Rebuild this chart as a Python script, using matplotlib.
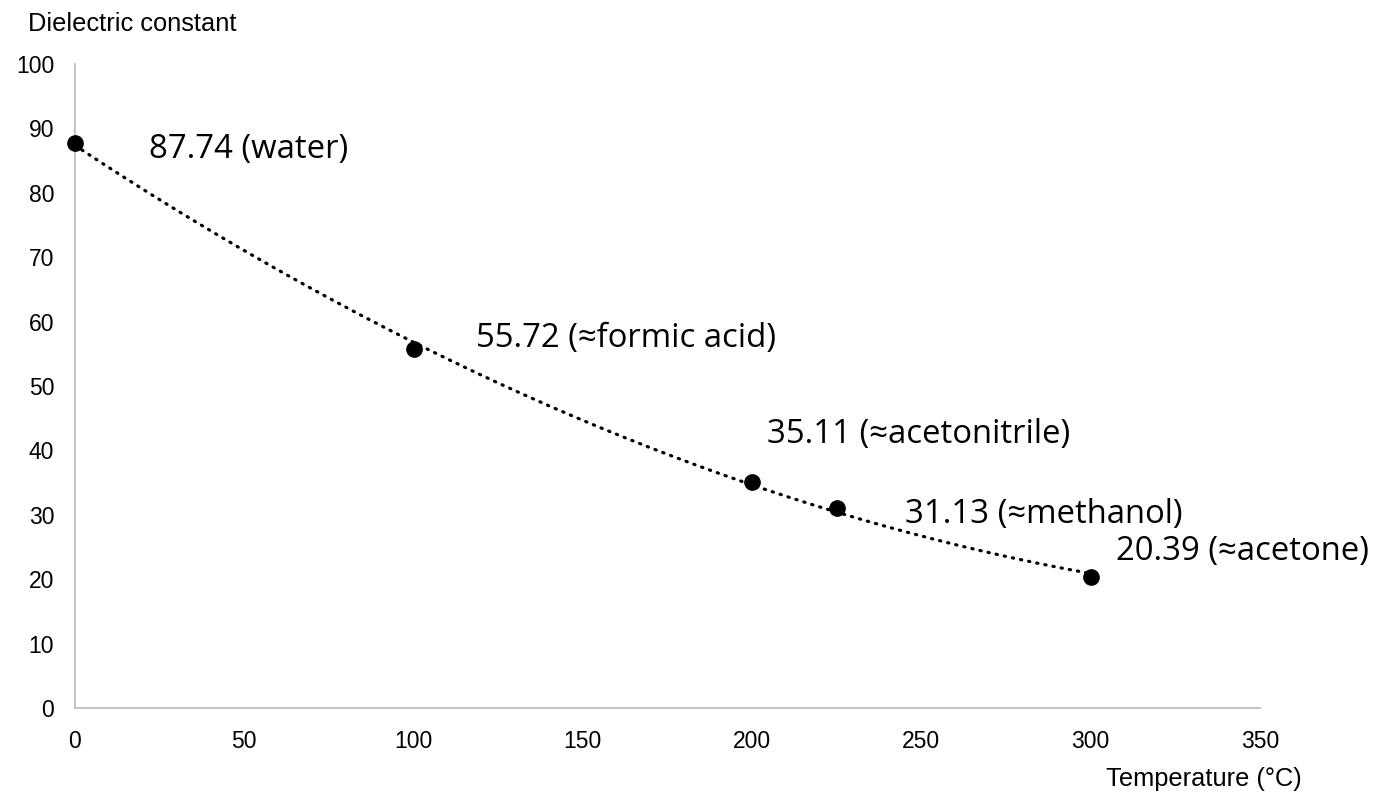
import numpy as np
import matplotlib.pyplot as plt

# data
temperature = [0, 100, 200, 225, 300]
dielectric = [87.74, 55.72, 35.11, 31.13, 20.39]
point_labels = [
    "87.74 (water)",
    "55.72 (≈formic acid)",
    "35.11 (≈acetonitrile)",
    "31.13 (≈methanol)",
    "20.39 (≈acetone)",
]
x_ticks = [0, 50, 100, 150, 200, 250, 300, 350]
y_ticks = [0, 10, 20, 30, 40, 50, 60, 70, 80, 90, 100]

# label offsets in pixels from each point to the text baseline (style only)
label_offsets = [(74, -15), (62, 2), (15, 39), (68, -15), (25, 17)]

fig = plt.figure(figsize=(13.81, 8.01), dpi=100)
ax = fig.add_axes([0.0543, 0.1161, 0.858, 0.804])

# polynomial trendline (2nd order), like the spreadsheet trendline
coef = np.polyfit(temperature, dielectric, 2)
xs = np.linspace(min(temperature), max(temperature), 300)
ax.plot(xs, np.polyval(coef, xs), color="black", lw=2.3,
        linestyle=(0, (0.4, 2.2)), dash_capstyle="round", zorder=2)

ax.plot(temperature, dielectric, "o", color="black", markersize=11, zorder=3,
        clip_on=False)

for x, y, lab, off in zip(temperature, dielectric, point_labels, label_offsets):
    ax.annotate(lab, (x, y), xytext=off, textcoords="offset pixels",
                ha="left", va="baseline", fontsize=23.7,
                family=["Open Sans", "DejaVu Sans"], color="black")

ax.set_xlim(0, 350)
ax.set_ylim(0, 100)
ax.set_xticks(x_ticks)
ax.set_yticks(y_ticks)
for s in ["top", "right"]:
    ax.spines[s].set_visible(False)
for s in ["left", "bottom"]:
    ax.spines[s].set_color("#BFBFBF")
    ax.spines[s].set_linewidth(1.3)
ax.tick_params(length=0, labelsize=16.5)
ax.tick_params(axis="x", pad=15.5)
ax.tick_params(axis="y", pad=15)
for lab in ax.get_xticklabels() + ax.get_yticklabels():
    lab.set_family("Liberation Sans")

fig.text(28 / 1381, 1 - 24 / 801, "Dielectric constant", ha="left", va="center",
         fontsize=18.3, family="Liberation Sans")
fig.text(1302 / 1381, 1 - 779 / 801, "Temperature (°C)", ha="right", va="center",
         fontsize=18.3, family="Liberation Sans")

fig.savefig("out.png", dpi=100)
